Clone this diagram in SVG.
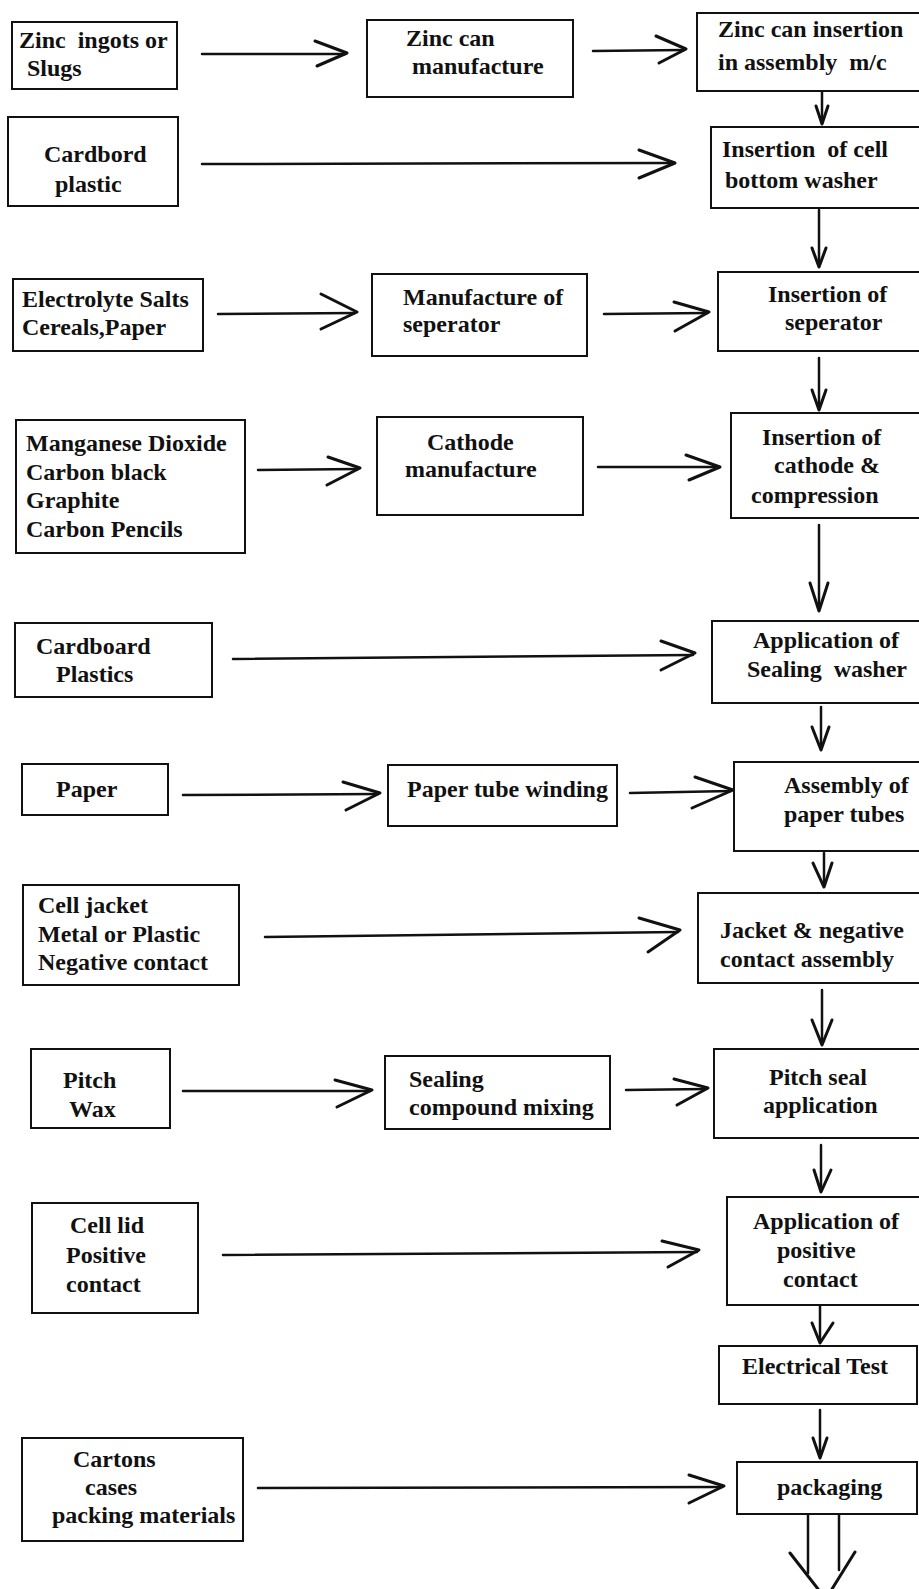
<svg xmlns="http://www.w3.org/2000/svg" width="919" height="1589" viewBox="0 0 919 1589">
<style>
.box{fill:#fff;stroke:#111;stroke-width:2}
.t{font-family:"Liberation Serif","Times New Roman",serif;font-weight:bold;font-size:24px;fill:#111}
.ln{stroke:#111;stroke-width:2.5;fill:none;stroke-linecap:round}
.hd{stroke:#111;stroke-width:3;fill:none;stroke-linecap:round;stroke-linejoin:round}
</style>
<rect width="919" height="1589" fill="#fff"/>
<g id="connectors">
<line class="ln" x1="202" y1="54" x2="345" y2="54"/><polyline class="hd" points="315,41 347,53 317,66"/>
<line class="ln" x1="593" y1="51" x2="684" y2="50"/><polyline class="hd" points="656,36 686,49 659,63"/>
<line class="ln" x1="202" y1="164" x2="673" y2="163"/><polyline class="hd" points="639,150 675,163 639,178"/>
<line class="ln" x1="218" y1="314" x2="355" y2="313"/><polyline class="hd" points="321,294 357,312 321,329"/>
<line class="ln" x1="604" y1="314" x2="707" y2="313"/><polyline class="hd" points="674,302 709,312 675,331"/>
<line class="ln" x1="258" y1="470" x2="358" y2="469"/><polyline class="hd" points="328,457 360,468 327,485"/>
<line class="ln" x1="598" y1="467" x2="718" y2="467"/><polyline class="hd" points="686,455 720,467 689,480"/>
<line class="ln" x1="233" y1="659" x2="693" y2="655"/><polyline class="hd" points="661,641 695,653 661,670"/>
<line class="ln" x1="183" y1="795" x2="378" y2="794"/><polyline class="hd" points="343,782 380,793 346,810"/>
<line class="ln" x1="630" y1="793" x2="731" y2="791"/><polyline class="hd" points="695,777 733,790 692,808"/>
<line class="ln" x1="265" y1="937" x2="678" y2="932"/><polyline class="hd" points="639,918 680,930 648,952"/>
<line class="ln" x1="183" y1="1091" x2="370" y2="1091"/><polyline class="hd" points="335,1080 372,1090 337,1107"/>
<line class="ln" x1="626" y1="1090" x2="706" y2="1089"/><polyline class="hd" points="674,1079 708,1088 677,1105"/>
<line class="ln" x1="223" y1="1255" x2="697" y2="1252"/><polyline class="hd" points="662,1241 699,1250 668,1267"/>
<line class="ln" x1="258" y1="1488" x2="722" y2="1487"/><polyline class="hd" points="689,1475 724,1486 689,1503"/>
<line class="ln" x1="822" y1="91" x2="822" y2="123"/><polyline class="hd" points="816,106 822,124 828,106"/>
<line class="ln" x1="819" y1="210" x2="819" y2="266"/><polyline class="hd" points="812,248 819,267 826,248"/>
<line class="ln" x1="819" y1="358" x2="819" y2="409"/><polyline class="hd" points="812,390 819,410 826,390"/>
<line class="ln" x1="819" y1="525" x2="819" y2="610"/><polyline class="hd" points="810,583 819,611 828,583"/>
<line class="ln" x1="821" y1="707" x2="821" y2="749"/><polyline class="hd" points="812,727 821,750 829,727"/>
<line class="ln" x1="824" y1="853" x2="824" y2="886"/><polyline class="hd" points="813,863 824,887 832,863"/>
<line class="ln" x1="822" y1="990" x2="822" y2="1044"/><polyline class="hd" points="812,1020 822,1045 832,1020"/>
<line class="ln" x1="821" y1="1145" x2="821" y2="1191"/><polyline class="hd" points="814,1170 821,1192 831,1170"/>
<line class="ln" x1="820" y1="1305" x2="820" y2="1342"/><polyline class="hd" points="812,1323 820,1343 833,1323"/>
<line class="ln" x1="820" y1="1410" x2="820" y2="1457"/><polyline class="hd" points="813,1438 820,1458 827,1438"/>
<line class="ln" x1="808" y1="1515" x2="808" y2="1573"/>
<line class="ln" x1="839" y1="1515" x2="839" y2="1570"/>
<line class="hd" x1="790" y1="1553" x2="818" y2="1589"/>
<line class="hd" x1="855" y1="1552" x2="832" y2="1589"/>
</g>
<g id="n-zinc-ingots"><rect class="box" x="12" y="22" width="165" height="67"/><text class="t" x="19" y="48" xml:space="preserve">Zinc  ingots or</text><text class="t" x="27" y="76">Slugs</text></g>
<g id="n-zinc-can"><rect class="box" x="367" y="20" width="206" height="77"/><text class="t" x="406" y="46">Zinc can</text><text class="t" x="412" y="74">manufacture</text></g>
<g id="n-zinc-insert"><rect class="box" x="697" y="13" width="225" height="78"/><text class="t" x="718" y="37">Zinc can insertion</text><text class="t" x="718" y="70" xml:space="preserve">in assembly  m/c</text></g>
<g id="n-cardbord"><rect class="box" x="8" y="117" width="170" height="89"/><text class="t" x="44" y="162">Cardbord</text><text class="t" x="55" y="192">plastic</text></g>
<g id="n-bottom-washer"><rect class="box" x="711" y="127" width="211" height="81"/><text class="t" x="722" y="157" xml:space="preserve">Insertion  of cell</text><text class="t" x="725" y="188">bottom washer</text></g>
<g id="n-electrolyte"><rect class="box" x="13" y="279" width="190" height="72"/><text class="t" x="22" y="307">Electrolyte Salts</text><text class="t" x="22" y="335">Cereals,Paper</text></g>
<g id="n-sep-man"><rect class="box" x="372" y="274" width="215" height="82"/><text class="t" x="403" y="305">Manufacture of</text><text class="t" x="403" y="332">seperator</text></g>
<g id="n-sep-ins"><rect class="box" x="718" y="272" width="204" height="79"/><text class="t" x="768" y="302">Insertion of</text><text class="t" x="785" y="330">seperator</text></g>
<g id="n-manganese"><rect class="box" x="16" y="420" width="229" height="133"/><text class="t" x="26" y="451">Manganese Dioxide</text><text class="t" x="26" y="480">Carbon black</text><text class="t" x="26" y="508">Graphite</text><text class="t" x="26" y="537">Carbon Pencils</text></g>
<g id="n-cathode-man"><rect class="box" x="377" y="417" width="206" height="98"/><text class="t" x="427" y="450">Cathode</text><text class="t" x="405" y="477">manufacture</text></g>
<g id="n-cathode-ins"><rect class="box" x="731" y="413" width="191" height="105"/><text class="t" x="762" y="445">Insertion of</text><text class="t" x="774" y="473">cathode &amp;</text><text class="t" x="751" y="503">compression</text></g>
<g id="n-cardboard"><rect class="box" x="15" y="623" width="197" height="74"/><text class="t" x="36" y="654">Cardboard</text><text class="t" x="56" y="682">Plastics</text></g>
<g id="n-sealing-washer"><rect class="box" x="712" y="621" width="210" height="82"/><text class="t" x="753" y="648">Application of</text><text class="t" x="747" y="677" xml:space="preserve">Sealing  washer</text></g>
<g id="n-paper"><rect class="box" x="22" y="764" width="146" height="51"/><text class="t" x="56" y="797">Paper</text></g>
<g id="n-tube-winding"><rect class="box" x="388" y="765" width="229" height="61"/><text class="t" x="407" y="797">Paper tube winding</text></g>
<g id="n-tube-assembly"><rect class="box" x="734" y="762" width="188" height="89"/><text class="t" x="784" y="793">Assembly of</text><text class="t" x="784" y="822">paper tubes</text></g>
<g id="n-cell-jacket"><rect class="box" x="23" y="885" width="216" height="100"/><text class="t" x="38" y="913">Cell jacket</text><text class="t" x="38" y="942">Metal or Plastic</text><text class="t" x="38" y="970">Negative contact</text></g>
<g id="n-jacket-assembly"><rect class="box" x="698" y="893" width="224" height="90"/><text class="t" x="720" y="938">Jacket &amp; negative</text><text class="t" x="720" y="967">contact assembly</text></g>
<g id="n-pitch-wax"><rect class="box" x="31" y="1049" width="139" height="79"/><text class="t" x="63" y="1088">Pitch</text><text class="t" x="69" y="1117">Wax</text></g>
<g id="n-compound"><rect class="box" x="385" y="1056" width="225" height="73"/><text class="t" x="409" y="1087">Sealing</text><text class="t" x="409" y="1115">compound mixing</text></g>
<g id="n-pitch-seal"><rect class="box" x="714" y="1049" width="208" height="89"/><text class="t" x="769" y="1085">Pitch seal</text><text class="t" x="763" y="1113">application</text></g>
<g id="n-cell-lid"><rect class="box" x="32" y="1203" width="166" height="110"/><text class="t" x="70" y="1233">Cell lid</text><text class="t" x="66" y="1263">Positive</text><text class="t" x="66" y="1292">contact</text></g>
<g id="n-positive"><rect class="box" x="727" y="1197" width="195" height="108"/><text class="t" x="753" y="1229">Application of</text><text class="t" x="777" y="1258">positive</text><text class="t" x="783" y="1287">contact</text></g>
<g id="n-electrical"><rect class="box" x="719" y="1346" width="198" height="58"/><text class="t" x="742" y="1374">Electrical Test</text></g>
<g id="n-cartons"><rect class="box" x="22" y="1438" width="221" height="103"/><text class="t" x="73" y="1467">Cartons</text><text class="t" x="85" y="1495">cases</text><text class="t" x="52" y="1523">packing materials</text></g>
<g id="n-packaging"><rect class="box" x="737" y="1462" width="180" height="52"/><text class="t" x="777" y="1495">packaging</text></g>
</svg>
